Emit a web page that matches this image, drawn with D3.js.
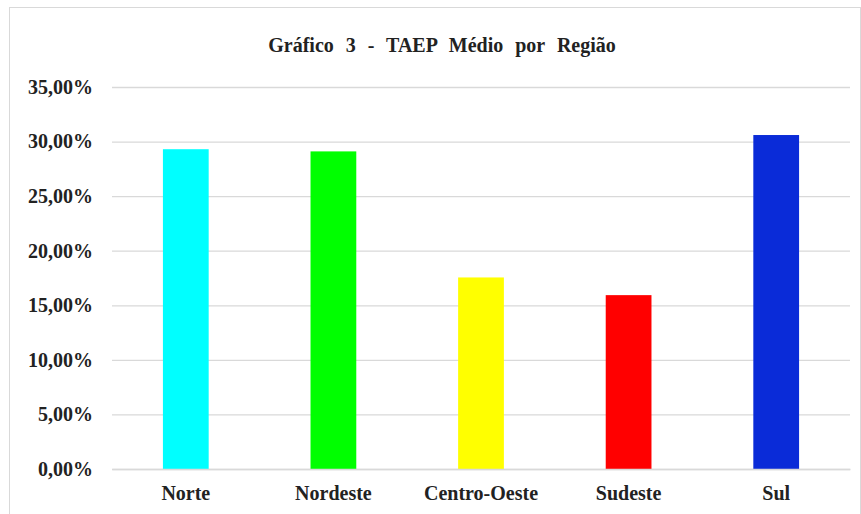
<!DOCTYPE html>
<html>
<head>
<meta charset="utf-8">
<script src="https://cdn.jsdelivr.net/npm/d3@7"></script>
<style>
  body { margin: 0; background: #fff; }
  svg text { font-family: "Liberation Serif", "Times New Roman", serif; font-weight: bold; fill: #222; }
</style>
</head>
<body>
<div id="chart-container"></div>
<script>
const regioes = ['Norte', 'Nordeste', 'Centro-Oeste', 'Sudeste', 'Sul'];
const taepMedio = [29.3, 29.1, 17.55, 15.93, 30.6];
const coresBarras = ['#00ffff', '#00ff00', '#ffff00', '#ff0000', '#0a2bd8'];
const ticksY = [0, 5, 10, 15, 20, 25, 30, 35];
const TITULO = 'Gráfico 3 - TAEP Médio por Região';

const WIDTH = 861, HEIGHT = 514;
const margin = {top: 87, right: 11, bottom: 45, left: 112};
const plotW = WIDTH - margin.left - margin.right,
  plotH = HEIGHT - margin.top - margin.bottom;

const svg = d3.select('#chart-container')
  .append('svg')
    .attr('width', WIDTH)
    .attr('height', HEIGHT);

// moldura do grafico
svg.append('rect')
  .attr('x', 9.5).attr('y', 7.5)
  .attr('width', 851).attr('height', 530)
  .attr('fill', 'none')
  .attr('stroke', '#d9d9d9');

svg.append('text')
  .attr('x', 442)
  .attr('y', 52)
  .attr('text-anchor', 'middle')
  .attr('font-family', '"Liberation Serif", serif')
  .style('font-size', '20px')
  .style('word-spacing', '7px')
  .text(TITULO);

const g = svg.append('g')
  .attr('transform', `translate(${margin.left}, ${margin.top})`);

const escalaX = d3.scaleBand()
  .domain(regioes)
  .range([0, plotW])
  .paddingInner(0.69)
  .paddingOuter(0.345);

const escalaY = d3.scaleLinear()
  .domain([0, 35])
  .range([plotH, 0]);

// linhas de grade
const eixoY = g.append('g')
  .call(d3.axisLeft(escalaY)
    .tickValues(ticksY)
    .tickSize(-plotW)
    .tickPadding(19)
    .tickFormat(d => d3.format('.2f')(d).replace('.', ',') + '%'));

eixoY.select('.domain').remove();
eixoY.selectAll('line').attr('stroke', '#d9d9d9').attr('stroke-width', 1.3);
eixoY.selectAll('text').style('font-size', '20px');

g.selectAll('rect.barra')
  .data(regioes)
  .join('rect')
    .attr('class', 'barra')
    .attr('x', d => escalaX(d))
    .attr('y', (d, i) => escalaY(taepMedio[i]))
    .attr('width', escalaX.bandwidth())
    .attr('height', (d, i) => plotH - escalaY(taepMedio[i]))
    .attr('fill', (d, i) => coresBarras[i]);

const eixoX = g.append('g')
  .attr('transform', `translate(0, ${plotH})`)
  .call(d3.axisBottom(escalaX).tickSize(0).tickPadding(17));

eixoX.select('.domain').attr('stroke', '#d9d9d9').attr('stroke-width', 1.3);
eixoX.selectAll('text').style('font-size', '20px');
</script>
</body>
</html>
